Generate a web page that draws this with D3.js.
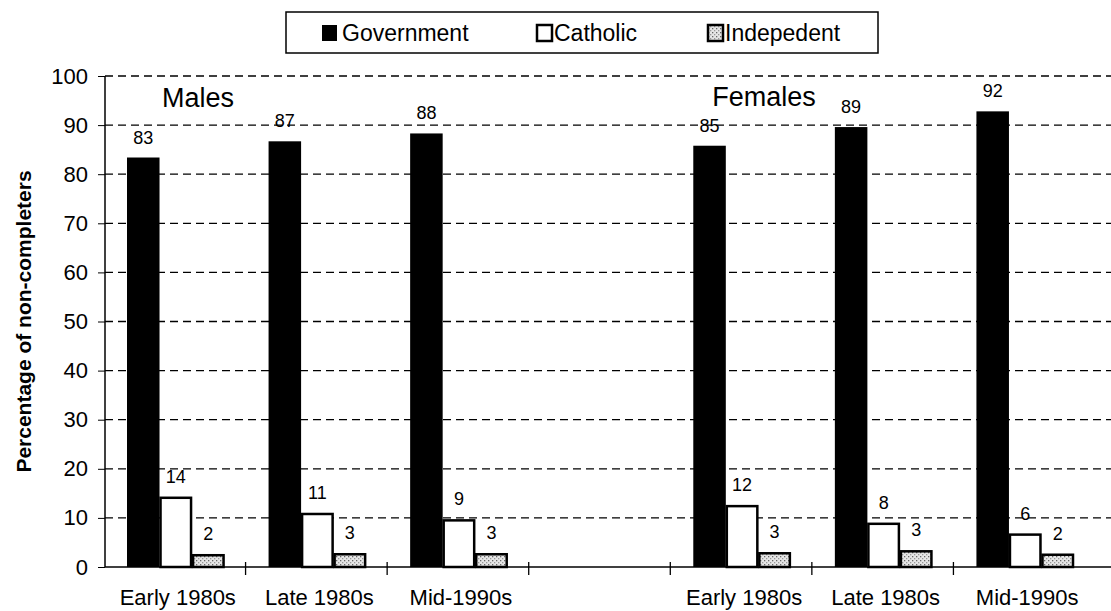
<!DOCTYPE html>
<html>
<head>
<meta charset="utf-8">
<script src="https://cdn.jsdelivr.net/npm/d3@7/dist/d3.min.js"></script>
<style>
  html, body { margin: 0; padding: 0; background: #fff; }
  svg { display: block; font-family: Arial, "Liberation Sans", Helvetica, sans-serif; }
</style>
</head>
<body>
<svg id="chart" width="1111" height="611"></svg>
<script>
// ---- data ----
const categories = ["M-Early", "M-Late", "M-Mid", "gap", "F-Early", "F-Late", "F-Mid"];
const categoryLabels = ["Early 1980s", "Late 1980s", "Mid-1990s", "", "Early 1980s", "Late 1980s", "Mid-1990s"];
const seriesNames = ["Government", "Catholic", "Indepedent"];
const governmentValues = [83.4, 86.7, 88.3, null, 85.8, 89.6, 92.8];
const catholicValues   = [14.3, 11.0, 9.7, null, 12.6, 9.0, 6.8];
const independentValues = [2.6, 2.8, 2.8, null, 3.0, 3.4, 2.7];
const governmentLabels = ["83", "87", "88", "", "85", "89", "92"];
const catholicLabels   = ["14", "11", "9", "", "12", "8", "6"];
const independentLabels = ["2", "3", "3", "", "3", "3", "2"];
const yTicks = [0, 10, 20, 30, 40, 50, 60, 70, 80, 90, 100];
const groupTitles = ["Males", "Females"];
const yAxisTitle = "Percentage of non-completers";

// ---- layout ----
const svg = d3.select("#chart");
const axisX = 105, plotRight = 1111;
const y = d3.scaleLinear().domain([0, 100]).range([567, 76]);
const x0 = d3.scaleBand().domain(categories).range([104, 1095]).paddingInner(0).paddingOuter(0);
const x1 = d3.scaleBand().domain(seriesNames).range([23, x0.bandwidth() - 21]).padding(0);

// pattern for Independent
const defs = svg.append("defs");
const pat = defs.append("pattern").attr("id", "dots").attr("patternUnits", "userSpaceOnUse")
  .attr("width", 4).attr("height", 4);
pat.append("rect").attr("width", 4).attr("height", 4).attr("fill", "#e6e6e6");
pat.append("rect").attr("x", 0).attr("y", 0).attr("width", 1.3).attr("height", 1.3).attr("fill", "#666");
pat.append("rect").attr("x", 2).attr("y", 2).attr("width", 1.3).attr("height", 1.3).attr("fill", "#999");

// gridlines
svg.append("g").selectAll("line").data(yTicks.filter(d => d > 0)).join("line")
  .attr("x1", axisX).attr("x2", plotRight)
  .attr("y1", d => y(d)).attr("y2", d => y(d))
  .attr("stroke", "#000").attr("stroke-width", 1.3).attr("stroke-dasharray", "8,5");

// y axis
const yAxis = d3.axisLeft(y).tickValues(yTicks).tickSize(6).tickPadding(11);
const gy = svg.append("g").attr("transform", `translate(${axisX},0)`).call(yAxis);
gy.attr("font-size", 22).attr("font-family", "Arial, 'Liberation Sans', sans-serif");
gy.select(".domain").attr("stroke", "#000").attr("stroke-width", 1.5).attr("d", `M0,${y(0)}V${y(100)}`);
gy.selectAll(".tick line").attr("stroke", "#000").attr("x2", -7).attr("x1", 0);
gy.selectAll(".tick text").attr("fill", "#000");

// x axis
const gx = svg.append("g");
gx.append("line").attr("x1", axisX).attr("x2", plotRight).attr("y1", y(0)).attr("y2", y(0))
  .attr("stroke", "#000").attr("stroke-width", 1.5);
gx.selectAll("line.tk").data(categories.slice(1).map(c => x0(c))).join("line").attr("class", "tk")
  .attr("x1", d => d).attr("x2", d => d).attr("y1", y(0) - 5).attr("y2", y(0) + 8)
  .attr("stroke", "#000").attr("stroke-width", 1.3);
gx.selectAll("text").data(categories).join("text")
  .attr("x", c => x0(c) + x0.bandwidth() / 2 + 3)
  .attr("y", 605)
  .attr("text-anchor", "middle")
  .attr("font-size", 22)
  .text((c, i) => categoryLabels[i]);

// bars
const seriesValues = [governmentValues, catholicValues, independentValues];
const seriesLabels = [governmentLabels, catholicLabels, independentLabels];
const fills = ["#000", "#fff", "url(#dots)"];
seriesNames.forEach((s, si) => {
  const data = categories.map((c, i) => ({ c, v: seriesValues[si][i], l: seriesLabels[si][i] }))
    .filter(d => d.v != null);
  const g = svg.append("g");
  g.selectAll("rect").data(data).join("rect")
    .attr("x", d => x0(d.c) + x1(s) + (si > 0 ? 1 : 0))
    .attr("width", x1.bandwidth() - (si > 0 ? 2 : 0))
    .attr("y", d => y(d.v) + (si > 0 ? 1 : 0))
    .attr("height", d => y(0) - y(d.v) - (si > 0 ? 1 : 0))
    .attr("fill", fills[si])
    .attr("stroke", si > 0 ? "#000" : "none")
    .attr("stroke-width", 2.5);
  g.selectAll("text").data(data).join("text")
    .attr("x", d => x0(d.c) + x1(s) + x1.bandwidth() / 2)
    .attr("y", d => y(d.v) - 14)
    .attr("text-anchor", "middle")
    .attr("font-size", 18)
    .text(d => d.l);
});

// group titles
svg.append("text").attr("x", x0("M-Early") + 58).attr("y", 107).attr("font-size", 27).text(groupTitles[0]);
svg.append("text").attr("x", x0("F-Early") + 42).attr("y", 106).attr("font-size", 27).text(groupTitles[1]);

// y axis title
svg.append("text")
  .attr("transform", `translate(31,${(y(0) + y(100)) / 2}) rotate(-90)`)
  .attr("text-anchor", "middle")
  .attr("font-size", 21)
  .attr("font-weight", "bold")
  .text(yAxisTitle);

// legend
const lg = svg.append("g");
lg.append("rect").attr("x", 286).attr("y", 12).attr("width", 592).attr("height", 41)
  .attr("fill", "#fff").attr("stroke", "#000").attr("stroke-width", 1.5);
const legendX = [322, 537, 708];
seriesNames.forEach((s, i) => {
  lg.append("rect").attr("x", legendX[i]).attr("y", 25).attr("width", 15).attr("height", 16)
    .attr("fill", fills[i]).attr("stroke", "#000").attr("stroke-width", i > 0 ? 2.5 : 0);
  lg.append("text").attr("x", legendX[i] + (i === 0 ? 20 : 17)).attr("y", 41).attr("font-size", 23).text(s);
});
</script>
</body>
</html>
